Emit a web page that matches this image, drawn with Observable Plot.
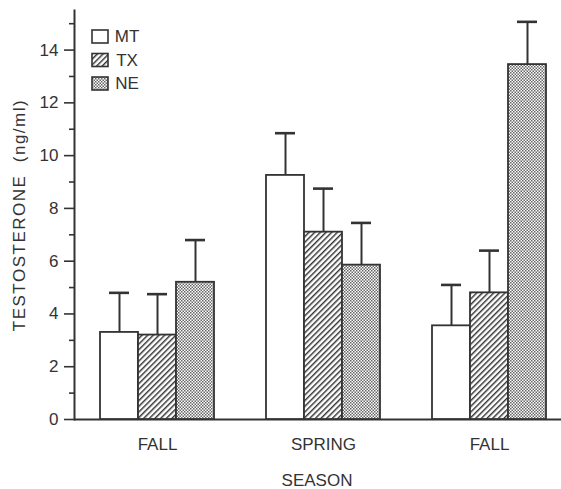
<!DOCTYPE html>
<html>
<head>
<meta charset="utf-8">
<script src="https://cdn.jsdelivr.net/npm/d3@7"></script>
<script src="https://cdn.jsdelivr.net/npm/@observablehq/plot@0.6"></script>
<style>
  body { margin: 0; background: #fff; }
  svg { display: block; }
</style>
</head>
<body>
<div id="chart"></div>
<script>
// ---- data ----
const seasons = ["FALL", "SPRING", "FALL"];          // x groups (in order)
const populations = ["MT", "TX", "NE"];              // series
const mtMean = [3.3, 9.25, 3.55];
const txMean = [3.2, 7.1, 4.8];
const neMean = [5.2, 5.85, 13.45];
const mtErr = [1.5, 1.6, 1.55];
const txErr = [1.55, 1.65, 1.6];
const neErr = [1.6, 1.6, 1.62];
const yTicks = [0, 2, 4, 6, 8, 10, 12, 14];
const yMinorTicks = [1, 3, 5, 7, 9, 11, 13, 15];

const means = {MT: mtMean, TX: txMean, NE: neMean};
const errs = {MT: mtErr, TX: txErr, NE: neErr};
const data = [];
seasons.forEach((s, g) => {
  populations.forEach(p => {
    data.push({g, season: s, pop: p, mean: means[p][g], err: errs[p][g]});
  });
});

const ink = "#333";

const plot = Plot.plot({
  width: 561,
  height: 489,
  marginLeft: 73,
  marginRight: -11,
  marginTop: 10,
  marginBottom: 70,
  style: {fontFamily: "'Liberation Sans', Arial, Helvetica, sans-serif", fontSize: "17px", color: ink, background: "#fff"},
  fx: {domain: [0, 1, 2], padding: 0, label: null},
  x: {domain: populations, paddingInner: 0, paddingOuter: 0.66, align: 0.5, axis: null},
  y: {domain: [0, 15.5]},
  color: {type: "ordinal", domain: populations, range: ["#ffffff", "url(#hatch)", "url(#dots)"]},
  marks: [
    Plot.axisY({ticks: yMinorTicks, tickSize: 5, tickFormat: () => "", label: null, stroke: ink, strokeWidth: 1.6}),
    Plot.axisY({ticks: yTicks, tickSize: 10, tickPadding: 6, stroke: ink, strokeWidth: 1.6,
      label: "TESTOSTERONE  (ng/ml)", labelAnchor: "center", labelOffset: 62, labelArrow: "none"}),
    Plot.axisFx({anchor: "bottom", tickSize: 0, tickPadding: 18, tickFormat: i => seasons[i], label: null}),
    Plot.frame({anchor: "left", facetAnchor: "left", stroke: ink, strokeWidth: 2}),
    Plot.ruleY([0], {stroke: ink, strokeWidth: 2}),
    Plot.barY(data, {fx: "g", x: "pop", y: "mean", fill: "pop", stroke: ink, strokeWidth: 1.8}),
    Plot.ruleX(data, {fx: "g", x: "pop", y1: "mean", y2: d => d.mean + d.err, stroke: ink, strokeWidth: 2}),
    Plot.tickY(data, {fx: "g", x: "pop", y: d => d.mean + d.err, insetLeft: 9, insetRight: 9, stroke: ink, strokeWidth: 2.6})
  ]
});

const svg = d3.select(plot);
// stretch the rotated y label to the reference's length
svg.selectAll('g[aria-label="y-axis label"] text')
  .style("font-size", "17px").style("letter-spacing", "1.5px");

const defs = svg.insert("defs", ":first-child");
const hatch = defs.append("pattern").attr("id", "hatch").attr("patternUnits", "userSpaceOnUse")
  .attr("width", 4).attr("height", 4).attr("patternTransform", "rotate(45)");
hatch.append("rect").attr("width", 4).attr("height", 4).attr("fill", "#fff");
hatch.append("line").attr("x1", 0.7).attr("y1", 0).attr("x2", 0.7).attr("y2", 4).attr("stroke", "#333").attr("stroke-width", 1.5);
const dots = defs.append("pattern").attr("id", "dots").attr("patternUnits", "userSpaceOnUse")
  .attr("width", 3).attr("height", 3);
dots.append("rect").attr("width", 3).attr("height", 3).attr("fill", "#fff");
dots.append("rect").attr("x", 0).attr("y", 0).attr("width", 1.5).attr("height", 1.5).attr("fill", "#666");
dots.append("rect").attr("x", 1.5).attr("y", 1.5).attr("width", 1.5).attr("height", 1.5).attr("fill", "#666");

// legend inside the plot area (top-left)
const fills = {MT: "#fff", TX: "url(#hatch)", NE: "url(#dots)"};
const leg = svg.append("g").attr("transform", "translate(92,30)");
populations.forEach((p, i) => {
  leg.append("rect").attr("x", 0).attr("y", i * 23.5).attr("width", 16).attr("height", 13)
    .attr("fill", fills[p]).attr("stroke", ink).attr("stroke-width", 1.6);
  leg.append("text").attr("x", 35).attr("y", i * 23.5 + 6.5).attr("dy", "0.35em")
    .attr("fill", ink).style("font-size", "17px").text(p);
});
// x axis title
svg.append("text").attr("x", 317).attr("y", 480).attr("dy", "0.35em").attr("text-anchor", "middle")
  .attr("fill", ink).style("font-size", "17px").text("SEASON");

document.getElementById("chart").appendChild(plot);
</script>
</body>
</html>
